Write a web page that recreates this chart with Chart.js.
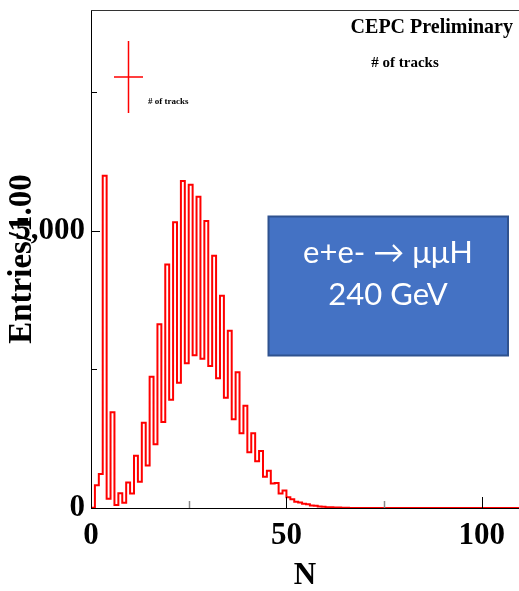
<!DOCTYPE html>
<html>
<head>
<meta charset="utf-8">
<script src="https://cdn.jsdelivr.net/npm/chart.js@4.4.1/dist/chart.umd.min.js"></script>
<style>
  html, body { margin: 0; padding: 0; background: #fff; }
  #wrap { width: 519px; height: 591px; }
</style>
</head>
<body>
<div id="wrap"><canvas id="chart" width="519" height="591"></canvas></div>
<script>
// entries per bin (bin width 1, first bin starts at N = 0)
const counts = [
  5, 5, 410, 615, 5992, 165, 1725, 55, 265, 96,
  460, 260, 940, 475, 1539, 765, 2368, 1148, 3312, 1551,
  4393, 1953, 5151, 2260, 5896, 2609, 5830, 2753, 5613, 2692,
  5175, 2560, 4549, 2338, 3828, 1989, 3197, 1599, 2447, 1346,
  1845, 1004, 1346, 841, 1028, 565, 673, 440, 450, 262,
  315, 195, 160, 112, 100, 78, 68, 46, 40, 26,
  22, 15, 12, 8, 7, 4, 3, 2, 2, 1,
  1, 0, 0, 0, 0, 0, 0, 0, 0, 0,
  0, 0, 0, 0, 0, 0, 0, 0, 0, 0,
  0, 0, 0, 0, 0, 0, 0, 0, 0, 0,
  0, 0, 0, 0, 0, 0, 0, 0, 0, 0
];
const xRange = [0, 109.5];
const yRange = [0, 8980];
const xTickValues = [0, 25, 50, 75, 100];
const xLabelTicks = [0, 50, 100];
const yTickValues = [0, 2500, 5000, 7500];
const yLabelTicks = [0, 5000];
const plotTitle = 'CEPC Preliminary';
const histName = '# of tracks';
const boxLines = ['e+e- \u2192 \u03bc\u03bcH', '240 GeV'];

const serif = '"Liberation Serif", "Times New Roman", serif';

// step points at the low edge of each bin, plus the closing edge
const points = counts.map((c, i) => ({ x: i, y: c }));
points.push({ x: counts.length, y: counts[counts.length - 1] });

const decor = {
  id: 'decor',
  afterDraw(chart) {
    const ctx = chart.ctx;
    const { left, top, right, bottom } = chart.chartArea;
    const xs = chart.scales.x, ys = chart.scales.y;
    ctx.save();

    // frame top
    ctx.strokeStyle = '#333';
    ctx.lineWidth = 1;
    ctx.beginPath();
    ctx.moveTo(left, top + 0.5);
    ctx.lineTo(right, top + 0.5);
    ctx.stroke();

    // inward tick marks
    yTickValues.forEach(v => {
      const py = Math.round(ys.getPixelForValue(v)) + 0.5;
      const len = yLabelTicks.includes(v) ? 9 : 6;
      ctx.strokeStyle = '#000';
      ctx.beginPath();
      ctx.moveTo(left, py);
      ctx.lineTo(left + len, py);
      ctx.stroke();
    });
    xTickValues.forEach(v => {
      const px = Math.round(xs.getPixelForValue(v)) + 0.5;
      const major = xLabelTicks.includes(v);
      ctx.strokeStyle = major ? '#000' : '#888';
      ctx.lineWidth = major ? 1 : 1.5;
      ctx.beginPath();
      ctx.moveTo(px, bottom);
      ctx.lineTo(px, bottom - (major ? 11 : 7));
      ctx.stroke();
    });

    // legend marker
    ctx.strokeStyle = '#ff0000';
    ctx.lineWidth = 1.5;
    ctx.beginPath();
    ctx.moveTo(128.5, 41);
    ctx.lineTo(128.5, 113);
    ctx.moveTo(114, 77);
    ctx.lineTo(143, 77);
    ctx.stroke();
    ctx.fillStyle = '#000';
    ctx.textBaseline = 'alphabetic';
    ctx.textAlign = 'left';
    ctx.font = 'bold 9px ' + serif;
    ctx.fillText(histName, 148, 104);

    // titles
    ctx.textAlign = 'right';
    ctx.font = 'bold 20px ' + serif;
    ctx.fillText(plotTitle, 513, 33);
    ctx.textAlign = 'center';
    ctx.font = 'bold 15px ' + serif;
    ctx.fillText(histName, 405, 67);

    // process box
    ctx.fillStyle = '#4472C4';
    ctx.fillRect(268.5, 216.5, 239.5, 139);
    ctx.strokeStyle = '#2F528F';
    ctx.lineWidth = 2;
    ctx.strokeRect(268.5, 216.5, 239.5, 139);
    ctx.fillStyle = '#fff';
    ctx.font = '31px Lato, "Open Sans", sans-serif';
    ctx.fillText(boxLines[0], 388, 263);
    ctx.fillText(boxLines[1], 388, 305);

    ctx.restore();
  }
};

new Chart(document.getElementById('chart'), {
  type: 'line',
  data: {
    datasets: [{
      label: histName,
      data: points,
      stepped: 'after',
      borderColor: '#ff0000',
      borderWidth: 2,
      pointRadius: 0,
      fill: false,
      tension: 0
    }]
  },
  options: {
    responsive: false,
    animation: false,
    devicePixelRatio: 1,
    layout: { padding: { top: 10, right: 0, left: 0, bottom: 0 } },
    plugins: {
      legend: { display: false },
      tooltip: { enabled: false }
    },
    scales: {
      x: {
        type: 'linear',
        min: xRange[0],
        max: xRange[1],
        afterBuildTicks: s => { s.ticks = xLabelTicks.map(v => ({ value: v })); },
        afterFit: s => { s.height = 83; s.paddingLeft = 0; s.paddingRight = 0; },
        grid: { display: false, drawTicks: false },
        border: { display: true, color: '#000', width: 1 },
        ticks: {
          autoSkip: false,
          maxRotation: 0,
          padding: 9,
          color: '#000',
          font: { family: serif, weight: 'bold', size: 31 }
        },
        title: {
          display: true,
          text: 'N',
          color: '#000',
          font: { family: serif, weight: 'bold', size: 31, lineHeight: 1 },
          padding: 0
        }
      },
      y: {
        min: yRange[0],
        max: yRange[1],
        afterBuildTicks: s => { s.ticks = yLabelTicks.map(v => ({ value: v })); },
        afterFit: s => { s.width = 91; s.paddingTop = 0; s.paddingBottom = 0; },
        grid: { display: false, drawTicks: false },
        border: { display: true, color: '#000', width: 1 },
        ticks: {
          autoSkip: false,
          padding: 6,
          color: '#000',
          font: { family: serif, weight: 'bold', size: 31 }
        },
        title: {
          display: true,
          text: 'Entries/1.00',
          color: '#000',
          font: { family: serif, weight: 'bold', size: 33 },
          padding: { top: 3, bottom: 0 }
        }
      }
    }
  },
  plugins: [decor]
});
</script>
</body>
</html>
